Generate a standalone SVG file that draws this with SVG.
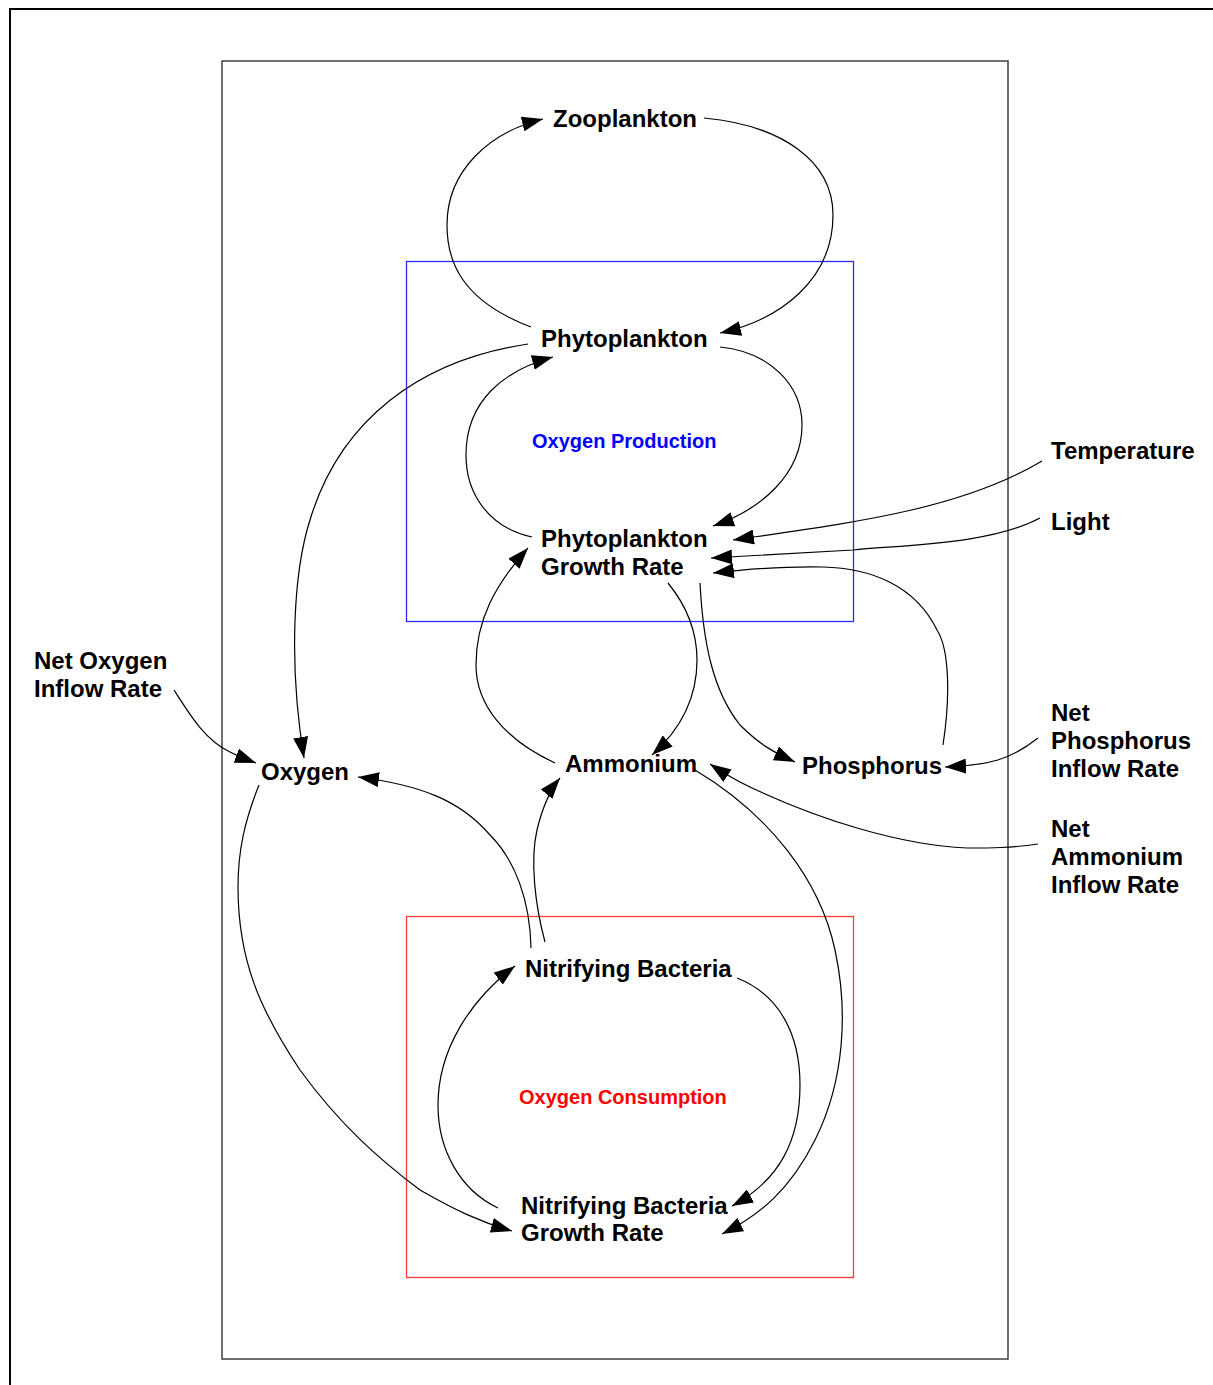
<svg xmlns="http://www.w3.org/2000/svg" width="1213" height="1385" viewBox="0 0 1213 1385">
  <style>
    .node { font-family: "Liberation Sans", Arial, sans-serif; font-weight: bold; font-size: 24px; fill: #000; }
    .region-label { font-family: "Liberation Sans", Arial, sans-serif; font-weight: bold; font-size: 20px; }
    .link { fill: none; stroke: #000; stroke-width: 1.2; marker-end: url(#arrow); }
  </style>
  <defs>
    <marker id="arrow" markerUnits="userSpaceOnUse" markerWidth="21" markerHeight="15" refX="21" refY="7.5" orient="auto">
      <path d="M0,0 L21,7.5 L0,15 z" fill="#000"/>
    </marker>
  </defs>

  <rect width="1213" height="1385" fill="#fff"/>

  <!-- page frame and model boundary -->
  <g id="frames">
    <rect x="10" y="9" width="1220" height="1400" fill="none" stroke="#000" stroke-width="2"/>
    <rect x="222" y="61" width="786" height="1298" fill="none" stroke="#333" stroke-width="1.4"/>
  </g>

  <!-- sector boxes -->
  <g id="oxygen-production">
    <rect x="406.5" y="261.5" width="447" height="360" fill="none" stroke="#2a2aff" stroke-width="1.3"/>
    <text class="region-label" x="532" y="448" fill="#0000ff">Oxygen Production</text>
  </g>
  <g id="oxygen-consumption">
    <rect x="406.5" y="916.5" width="447" height="361" fill="none" stroke="#ff3a3a" stroke-width="1.3"/>
    <text class="region-label" x="519" y="1104" fill="#ff0000">Oxygen Consumption</text>
  </g>

  <!-- causal links -->
  <g id="connectors">
    <!-- Phytoplankton -> Zooplankton -->
    <path class="link" d="M531,327 C460,300 447,260 447,225 C447,170 490,132 543,119"/>
    <!-- Zooplankton -> Phytoplankton -->
    <path class="link" d="M704,118 C780,125 833,160 833,215 C833,280 780,320 720,333"/>
    <!-- Phytoplankton -> Phytoplankton Growth Rate -->
    <path class="link" d="M720,347 C770,352 802,385 802,425 C802,475 760,510 713,526"/>
    <!-- Phytoplankton Growth Rate -> Phytoplankton -->
    <path class="link" d="M532,537 C490,528 466,495 466,455 C466,400 505,370 553,357"/>
    <!-- Phytoplankton -> Oxygen -->
    <path class="link" d="M528,344 C420,360 340,420 310,520 C294,570 288,660 304,758"/>
    <!-- Temperature -> Phytoplankton Growth Rate -->
    <path class="link" d="M1042,461 C960,510 850,523 733,540"/>
    <!-- Light -> Phytoplankton Growth Rate -->
    <path class="link" d="M1040,518 C990,545 900,545 853,550 C800,553 750,556 711,558"/>
    <!-- Phosphorus -> Phytoplankton Growth Rate -->
    <path class="link" d="M943,745 C950,700 950,650 937,630 C915,585 870,568 823,567 C780,566 740,570 713,573"/>
    <!-- Phytoplankton Growth Rate -> Ammonium -->
    <path class="link" d="M668,583 C690,610 697,635 697,660 C697,700 680,730 652,755"/>
    <!-- Phytoplankton Growth Rate -> Phosphorus -->
    <path class="link" d="M700,583 C703,640 712,690 740,725 C760,745 775,753 795,762"/>
    <!-- Ammonium -> Phytoplankton Growth Rate -->
    <path class="link" d="M555,763 C505,740 476,705 476,665 C476,620 495,585 528,548"/>
    <!-- Net Phosphorus Inflow Rate -> Phosphorus -->
    <path class="link" d="M1038,738 C1010,760 990,765 945,767"/>
    <!-- Net Ammonium Inflow Rate -> Ammonium -->
    <path class="link" d="M1038,844 C1010,848 990,848 967,848 C900,845 820,820 750,787 C735,780 722,772 710,764"/>
    <!-- Net Oxygen Inflow Rate -> Oxygen -->
    <path class="link" d="M174,690 C190,715 205,740 230,752 C240,757 248,760 256,763"/>
    <!-- Oxygen -> Nitrifying Bacteria Growth Rate -->
    <path class="link" d="M259,785 C245,820 238,850 238,887 C238,960 260,1010 300,1070 C340,1125 380,1160 420,1190 C455,1210 480,1222 512,1231"/>
    <!-- Nitrifying Bacteria -> Oxygen -->
    <path class="link" d="M531,948 C530,900 515,860 490,835 C460,800 420,785 358,777"/>
    <!-- Nitrifying Bacteria -> Ammonium -->
    <path class="link" d="M545,942 C535,905 530,860 537,830 C543,805 550,790 560,778"/>
    <!-- Ammonium -> Nitrifying Bacteria Growth Rate -->
    <path class="link" d="M695,770 C770,815 820,880 835,950 C848,1010 845,1080 815,1140 C790,1190 760,1215 722,1234"/>
    <!-- Nitrifying Bacteria -> Nitrifying Bacteria Growth Rate -->
    <path class="link" d="M737,978 C780,995 800,1035 800,1085 C800,1140 780,1180 732,1206"/>
    <!-- Nitrifying Bacteria Growth Rate -> Nitrifying Bacteria -->
    <path class="link" d="M498,1208 C460,1190 438,1150 438,1105 C438,1050 470,1000 515,966"/>
  </g>

  <!-- model variables -->
  <g id="zooplankton"><text class="node" x="553" y="127">Zooplankton</text></g>
  <g id="phytoplankton"><text class="node" x="541" y="347">Phytoplankton</text></g>
  <g id="phytoplankton-growth-rate">
    <text class="node" x="541" y="547">Phytoplankton</text>
    <text class="node" x="541" y="575">Growth Rate</text>
  </g>
  <g id="temperature"><text class="node" x="1051" y="459">Temperature</text></g>
  <g id="light"><text class="node" x="1051" y="530">Light</text></g>
  <g id="net-oxygen-inflow-rate">
    <text class="node" x="34" y="669">Net Oxygen</text>
    <text class="node" x="34" y="697">Inflow Rate</text>
  </g>
  <g id="oxygen"><text class="node" x="261" y="780">Oxygen</text></g>
  <g id="ammonium"><text class="node" x="565" y="772">Ammonium</text></g>
  <g id="phosphorus"><text class="node" x="802" y="774">Phosphorus</text></g>
  <g id="net-phosphorus-inflow-rate">
    <text class="node" x="1051" y="721">Net</text>
    <text class="node" x="1051" y="749">Phosphorus</text>
    <text class="node" x="1051" y="777">Inflow Rate</text>
  </g>
  <g id="net-ammonium-inflow-rate">
    <text class="node" x="1051" y="837">Net</text>
    <text class="node" x="1051" y="865">Ammonium</text>
    <text class="node" x="1051" y="893">Inflow Rate</text>
  </g>
  <g id="nitrifying-bacteria"><text class="node" x="525" y="977">Nitrifying Bacteria</text></g>
  <g id="nitrifying-bacteria-growth-rate">
    <text class="node" x="521" y="1214">Nitrifying Bacteria</text>
    <text class="node" x="521" y="1241">Growth Rate</text>
  </g>
</svg>
